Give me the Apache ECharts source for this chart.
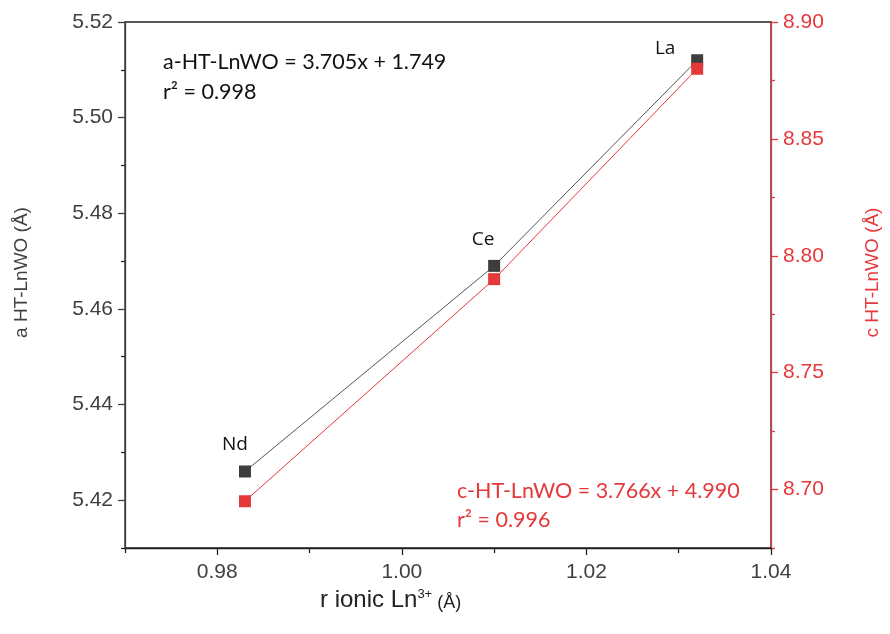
<!DOCTYPE html>
<html>
<head>
<meta charset="utf-8">
<script src="https://cdn.jsdelivr.net/npm/echarts@6/dist/echarts.min.js"></script>
<style>html,body{margin:0;padding:0;background:#fff}#c{width:890px;height:634px}</style>
</head>
<body>
<div id="c"></div>
<script>
// ---- data ----
const elements = ['Nd', 'Ce', 'La'];
const ionicRadius = [0.983, 1.010, 1.032];
const aValues = [5.426, 5.469, 5.512];
const cValues = [8.695, 8.790, 8.880];
const xMajorTicks = [0.98, 1.00, 1.02, 1.04];
const xMinorTicks = [0.97, 0.99, 1.01, 1.03];
const aMajorTicks = [5.42, 5.44, 5.46, 5.48, 5.50, 5.52];
const aMinorTicks = [5.41, 5.43, 5.45, 5.47, 5.49, 5.51];
const cMajorTicks = [8.70, 8.75, 8.80, 8.85, 8.90];
const cMinorTicks = [8.675, 8.725, 8.775, 8.825, 8.875];
const eqA = 'a-HT-LnWO = 3.705x + 1.749';
const r2A = 'r² = 0.998';
const eqC = 'c-HT-LnWO = 3.766x + 4.990';
const r2C = 'r² = 0.996';

const BLACK = '#3d3d3d';
const RED = '#e5383b';
const labelOffsets = [[-10, -27], [-11, -26], [-32, -12]];

const chart = echarts.init(document.getElementById('c'), null, {renderer: 'canvas'});
const tickFont = {fontFamily: 'Liberation Sans', fontSize: 21};

function majorAxisY(min, max, ticks, color, pos, fmt, name, nameGap) {
  return {
    type: 'value', position: pos, min: min, max: max,
    axisLine: {show: true, lineStyle: {color: color, width: 1.3}},
    axisTick: {show: true, customValues: ticks, length: 7, lineStyle: {color: color, width: 1.3}},
    axisLabel: Object.assign({show: true, customValues: ticks, color: color, margin: 12,
      formatter: v => v.toFixed(fmt)}, tickFont),
    splitLine: {show: false},
    name: name, nameLocation: 'middle', nameRotate: 90, nameGap: nameGap,
    nameTextStyle: {color: color, fontFamily: 'Liberation Sans', fontSize: 19, padding: [0, 0, 0, 25]}
  };
}
function minorAxisY(min, max, ticks, color, pos) {
  return {
    type: 'value', position: pos, min: min, max: max,
    axisLine: {show: false},
    axisTick: {show: true, customValues: ticks, length: 4, lineStyle: {color: color, width: 1.3}},
    axisLabel: {show: false}, splitLine: {show: false}
  };
}

const option = {
  backgroundColor: '#fff',
  animation: false,
  grid: {left: 125, right: 118, top: 22, bottom: 86, show: true, borderColor: '#222', borderWidth: 1.3, backgroundColor: 'transparent'},
  xAxis: [
    {
      type: 'value', position: 'bottom', min: 0.97, max: 1.04,
      axisLine: {show: true, onZero: false, lineStyle: {color: '#222', width: 1.3}},
      axisTick: {show: true, customValues: xMajorTicks, length: 7, lineStyle: {color: '#222', width: 1.3}},
      axisLabel: Object.assign({show: true, customValues: xMajorTicks, color: '#404040', margin: 14,
        formatter: v => v.toFixed(2)}, tickFont),
      splitLine: {show: false}
    },
    {
      type: 'value', position: 'bottom', min: 0.97, max: 1.04,
      axisLine: {show: false, onZero: false},
      axisTick: {show: true, customValues: xMinorTicks, length: 5, lineStyle: {color: '#222', width: 1.3}},
      axisLabel: {show: false}, splitLine: {show: false}
    }
  ],
  yAxis: [
    majorAxisY(5.41, 5.52, aMajorTicks, '#404040', 'left', 2, 'a HT-LnWO (Å)', 94),
    majorAxisY(8.675, 8.90, cMajorTicks, RED, 'right', 2, 'c HT-LnWO (Å)', 92),
    minorAxisY(5.41, 5.52, aMinorTicks, '#222', 'left'),
    minorAxisY(8.675, 8.90, cMinorTicks, RED, 'right')
  ],
  series: [
    {
      type: 'line', xAxisIndex: 0, yAxisIndex: 0,
      data: ionicRadius.map((x, i) => ({
        value: [x, aValues[i]],
        label: {show: true, position: 'inside', offset: labelOffsets[i], formatter: elements[i],
          color: '#111', fontFamily: 'Open Sans', fontSize: 19}
      })),
      symbol: 'rect', symbolSize: 12,
      itemStyle: {color: BLACK},
      lineStyle: {color: '#555', width: 1},
      z: 3
    },
    {
      type: 'line', xAxisIndex: 0, yAxisIndex: 1,
      data: ionicRadius.map((x, i) => [x, cValues[i]]),
      symbol: 'rect', symbolSize: 12,
      itemStyle: {color: RED},
      lineStyle: {color: RED, width: 1},
      z: 4
    }
  ],
  graphic: [
    {type: 'text', left: 163, top: 51, style: {text: eqA, fill: '#111', font: '21.5px Lato'}},
    {type: 'text', left: 163, top: 81, style: {text: r2A, fill: '#111', font: '21.5px Lato'}},
    {type: 'text', left: 457, top: 480, style: {text: eqC, fill: RED, font: '21.5px Lato'}},
    {type: 'text', left: 457, top: 509, style: {text: r2C, fill: RED, font: '21.5px Lato'}},
    {type: 'text', left: 320, top: 588, style: {
      text: '{a|r ionic Ln}{s|3+}{b| (Å)}',
      rich: {
        a: {fontFamily: 'Liberation Sans', fontSize: 24, fill: '#222', verticalAlign: 'bottom'},
        s: {fontFamily: 'Liberation Sans', fontSize: 13, fill: '#222', verticalAlign: 'top', padding: [0, 0, 10, 0]},
        b: {fontFamily: 'Liberation Sans', fontSize: 18, fill: '#222', verticalAlign: 'bottom'}
      }
    }}
  ]
};
chart.setOption(option);
</script>
</body>
</html>
